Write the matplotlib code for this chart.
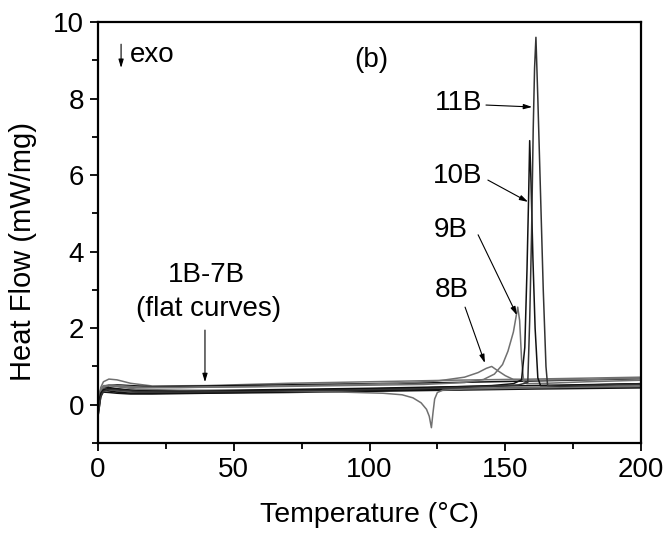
import matplotlib
matplotlib.use("Agg")
import matplotlib.pyplot as plt

plt.rcParams['font.family'] = ['Liberation Sans', 'DejaVu Sans']

# ---- data (Temperature in °C, Heat Flow in mW/mg) ----
t_flat = [0, 1, 2, 4, 7, 12, 20, 40, 70, 100, 130, 160, 200]
flat_1 = [-0.1, 0.45, 0.6, 0.67, 0.65, 0.56, 0.49, 0.5, 0.56, 0.6, 0.64, 0.67, 0.72]
flat_2 = [-0.3, 0.2, 0.4, 0.5, 0.52, 0.5, 0.47, 0.49, 0.52, 0.55, 0.58, 0.62, 0.68]
flat_3 = [0.0, 0.35, 0.45, 0.45, 0.42, 0.38, 0.36, 0.37, 0.4, 0.43, 0.47, 0.5, 0.55]
flat_4 = [0.1, 0.4, 0.42, 0.4, 0.36, 0.33, 0.32, 0.33, 0.35, 0.38, 0.42, 0.46, 0.5]
flat_5 = [0.0, 0.3, 0.38, 0.36, 0.33, 0.3, 0.3, 0.31, 0.34, 0.37, 0.4, 0.43, 0.47]
flat_6 = [-0.2, 0.25, 0.33, 0.32, 0.3, 0.28, 0.28, 0.3, 0.32, 0.35, 0.38, 0.41, 0.44]

t_dip = [0, 1, 2, 4, 8, 15, 30, 60, 90, 105, 112, 116, 119, 121, 122, 122.8, 123.4, 124, 125, 127, 135, 160, 200]
h_dip = [0.1, 0.4, 0.5, 0.5, 0.46, 0.4, 0.38, 0.36, 0.33, 0.3, 0.26, 0.18, 0.05, -0.12, -0.3, -0.6, -0.2, 0.15, 0.32, 0.38, 0.41, 0.44, 0.48]

t_8b = [0, 1, 2, 4, 8, 15, 30, 60, 90, 110, 125, 135, 140, 143, 145, 147, 150, 153, 160, 180, 200]
h_8b = [-0.2, 0.3, 0.45, 0.5, 0.48, 0.44, 0.45, 0.48, 0.52, 0.56, 0.62, 0.72, 0.84, 0.95, 1.0, 0.9, 0.76, 0.66, 0.64, 0.66, 0.69]

t_9b = [0, 1, 2, 4, 8, 15, 30, 60, 90, 120, 135, 142, 146, 149, 151, 153, 154.6, 155.3, 156, 156.8, 158, 165, 180, 200]
h_9b = [-0.1, 0.35, 0.48, 0.52, 0.5, 0.46, 0.45, 0.47, 0.5, 0.53, 0.58, 0.66, 0.8, 1.05, 1.4, 1.9, 2.55, 2.2, 1.2, 0.6, 0.55, 0.56, 0.6, 0.64]

t_10b = [0, 1, 2, 4, 8, 15, 30, 60, 90, 120, 145, 153, 156, 157.2, 158, 158.6, 159.0, 159.5, 160.2, 161, 162, 163, 170, 200]
h_10b = [0.0, 0.3, 0.4, 0.42, 0.4, 0.36, 0.35, 0.37, 0.4, 0.44, 0.5, 0.55, 0.65, 1.5, 3.5, 5.4, 6.9, 5.8, 3.8, 2.0, 0.7, 0.5, 0.5, 0.55]

t_11b = [0, 1, 2, 4, 8, 15, 30, 60, 90, 120, 145, 155, 158.3, 159.0, 159.7, 160.3, 160.8, 161.3, 162, 163, 164, 165, 165.6, 170, 200]
h_11b = [-0.3, 0.2, 0.35, 0.4, 0.38, 0.34, 0.33, 0.35, 0.38, 0.42, 0.48, 0.52, 0.58, 2.2, 4.5, 7.2, 8.8, 9.6, 8.0, 5.5, 3.0, 1.0, 0.5, 0.48, 0.54]

x_ticks = [0, 50, 100, 150, 200]
y_ticks = [0, 2, 4, 6, 8, 10]

GREY = '#707070'
BLACK = '#111111'

fig = plt.figure(figsize=(6.66, 5.33), dpi=100)
ax = fig.add_axes([98 / 666, 90 / 533, 543 / 666, 421 / 533])

lw = 1.1
ax.plot(t_flat, flat_1, color=GREY, lw=lw)
ax.plot(t_flat, flat_2, color=BLACK, lw=lw)
ax.plot(t_flat, flat_3, color=BLACK, lw=lw)
ax.plot(t_flat, flat_4, color=GREY, lw=lw)
ax.plot(t_flat, flat_5, color=BLACK, lw=lw)
ax.plot(t_flat, flat_6, color=BLACK, lw=lw)
ax.plot(t_dip, h_dip, color=GREY, lw=lw)
ax.plot(t_8b, h_8b, color=GREY, lw=lw)
ax.plot(t_9b, h_9b, color=GREY, lw=lw)
ax.plot(t_10b, h_10b, color=BLACK, lw=lw)
ax.plot(t_11b, h_11b, color='#333333', lw=lw)

ax.set_xlim(0, 200)
ax.set_ylim(-1, 10)
ax.set_xticks(x_ticks)
ax.set_yticks(y_ticks)
ax.set_xticks([25, 75, 125, 175], minor=True)
ax.set_yticks([-1, 1, 3, 5, 7, 9], minor=True)
ax.tick_params(axis='both', which='major', direction='out', length=6, width=1.3, labelsize=20, pad=4)
ax.tick_params(axis='both', which='minor', direction='out', length=4, width=1.3)
for s in ax.spines.values():
    s.set_linewidth(1.6)

ax.set_xlabel('Temperature (°C)', fontsize=20.5, labelpad=14)
ax.set_ylabel('Heat Flow (mW/mg)', fontsize=21, labelpad=8)
ax.yaxis.set_label_coords(-0.112, 0.454)

fs = 20
arrow = dict(arrowstyle='-|>,head_length=0.5,head_width=0.15', color='black', lw=0.8, shrinkA=0, shrinkB=0)

ax.text(133.0, 7.88, '11B', fontsize=fs, ha='center', va='center')
ax.annotate('', xy=(159.9, 7.78), xytext=(142.9, 7.83), arrowprops=arrow)
ax.text(132.6, 5.98, '10B', fontsize=fs, ha='center', va='center')
ax.annotate('', xy=(158.4, 5.30), xytext=(143.6, 5.87), arrowprops=arrow)
ax.text(130.0, 4.57, '9B', fontsize=fs, ha='center', va='center')
ax.annotate('', xy=(154.3, 2.34), xytext=(140.0, 4.44), arrowprops=arrow)
ax.text(130.4, 3.0, '8B', fontsize=fs, ha='center', va='center')
ax.annotate('', xy=(142.5, 1.09), xytext=(135.2, 2.55), arrowprops=arrow)

ax.text(40.1, 3.39, '1B-7B', fontsize=fs, ha='center', va='center')
ax.text(40.9, 2.5, '(flat curves)', fontsize=fs, ha='center', va='center')
ax.annotate('', xy=(39.4, 0.59), xytext=(39.4, 1.95), arrowprops=arrow)

ax.text(100.6, 9.0, '(b)', fontsize=fs, ha='center', va='center')
ax.text(11.8, 9.14, 'exo', fontsize=fs, ha='left', va='center')
ax.annotate('', xy=(8.5, 8.8), xytext=(8.5, 9.42), arrowprops=arrow)

fig.savefig('out.png', dpi=100)
